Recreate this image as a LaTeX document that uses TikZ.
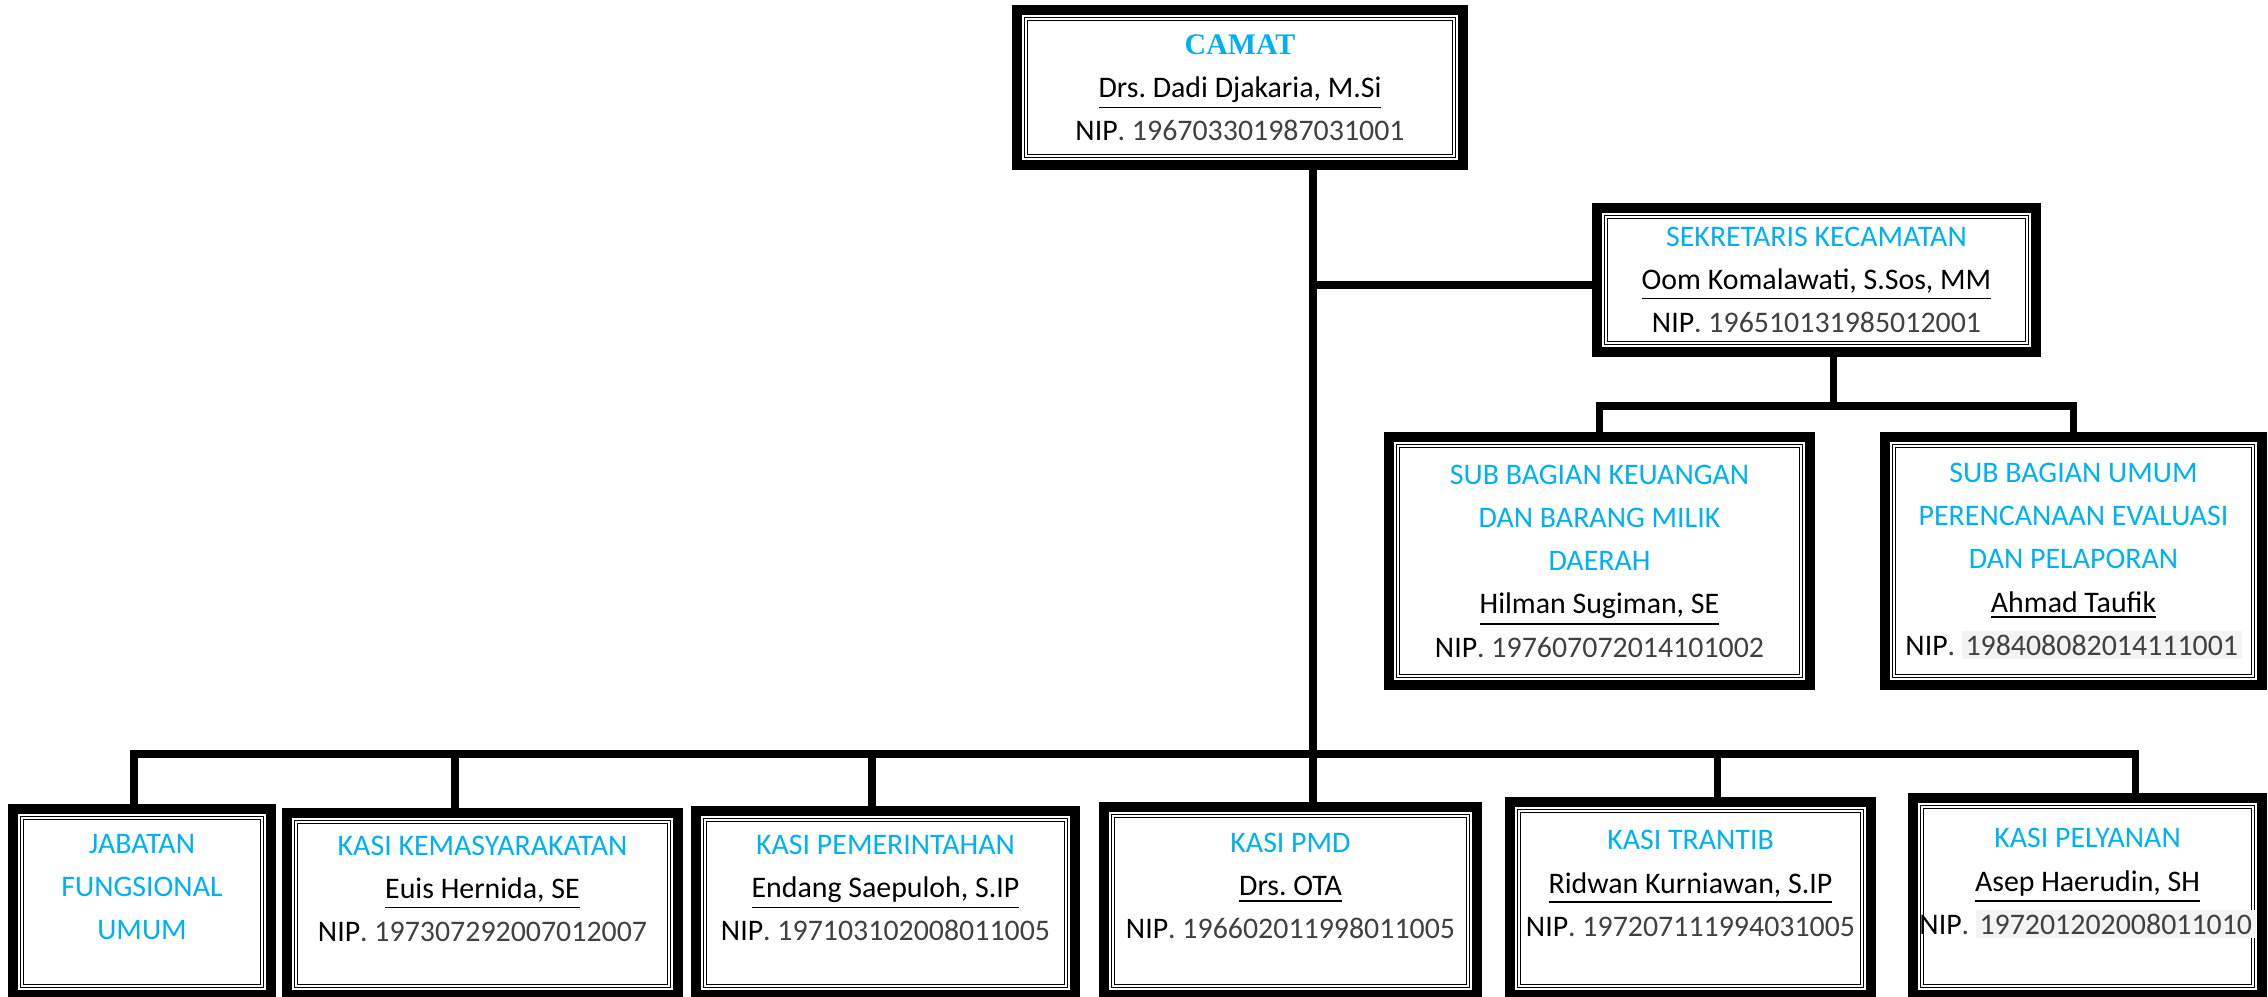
\documentclass[tikz,border=0pt]{standalone}
\usepackage{fontspec}
\setmainfont{Carlito}
\newfontfamily\serifjudul{Liberation Serif}
\usetikzlibrary{positioning}
\definecolor{biru}{HTML}{00B0F0}
\definecolor{abu}{HTML}{404040}
\definecolor{sorot}{HTML}{F3F3F3}
\newcommand{\jab}[1]{\textcolor{biru}{#1}}
\newcommand{\nama}[1]{\underline{#1}}
\newcommand{\nip}[1]{NIP\textcolor{abu}{. #1}}
\newcommand{\nipsorot}[1]{NIP\textcolor{abu}{. }{\setlength{\fboxsep}{1pt}\colorbox{sorot}{\textcolor{abu}{#1}}}}
\frenchspacing

\begin{document}
\begin{tikzpicture}[
  kotak/.style={draw, line width=2.8pt, align=center, inner sep=0pt,
    font=\fontsize{8.5}{12.3}\selectfont,
    append after command={\pgfextra{\draw[line width=0.45pt, double, double distance=0.4pt]
      ([shift={(4pt,-4pt)}]\tikzlastnode.north west) rectangle
      ([shift={(-4pt,4pt)}]\tikzlastnode.south east);}}},
  bawah/.style={kotak, text depth=0.3cm},
  garis/.style={line width=2pt}
]
\useasboundingbox (0,0) rectangle (22.68,-9.97);
% pimpinan
\node[kotak, minimum width=4.46cm, minimum height=1.55cm] (camat) at (12.40,-0.875)
  {{\serifjudul\bfseries\jab{CAMAT}}\\ \nama{Drs. Dadi Djakaria, M.Si}\\ \nip{196703301987031001}};
\node[kotak, minimum width=4.39cm, minimum height=1.44cm] (sekcam) at (18.165,-2.80)
  {\jab{SEKRETARIS KECAMATAN}\\ \nama{Oom Komalawati, S.Sos, MM}\\ \nip{196510131985012001}};
% sub bagian
\node[kotak, minimum width=4.21cm, minimum height=2.48cm] (subkeu) at (15.995,-5.61)
  {\jab{SUB BAGIAN KEUANGAN}\\ \jab{DAN BARANG MILIK}\\ \jab{DAERAH}\\
   \nama{Hilman Sugiman, SE}\\ \nip{197607072014101002}};
\node[kotak, minimum width=3.77cm, minimum height=2.48cm] (subumum) at (20.735,-5.61)
  {\jab{SUB BAGIAN UMUM}\\ \jab{PERENCANAAN EVALUASI}\\ \jab{DAN PELAPORAN}\\
   \nama{Ahmad Taufik}\\ \nipsorot{198408082014111001}};
% seksi
\node[bawah, minimum width=2.58cm, minimum height=1.86cm] (jabfung) at (1.42,-9.02)
  {\jab{JABATAN}\\ \jab{FUNGSIONAL}\\ \jab{UMUM}};
\node[bawah, minimum width=3.91cm, minimum height=1.82cm] (kemas) at (4.825,-9.04)
  {\jab{KASI KEMASYARAKATAN}\\ \nama{Euis Hernida, SE}\\ \nip{197307292007012007}};
\node[bawah, minimum width=3.79cm, minimum height=1.84cm] (pemerintahan) at (8.855,-9.03)
  {\jab{KASI PEMERINTAHAN}\\ \nama{Endang Saepuloh, S.IP}\\ \nip{197103102008011005}};
\node[bawah, minimum width=3.73cm, minimum height=1.88cm] (pmd) at (12.905,-9.01)
  {\jab{KASI PMD}\\ \nama{Drs. OTA}\\ \nip{196602011998011005}};
\node[bawah, minimum width=3.61cm, minimum height=1.93cm] (trantib) at (16.905,-8.985)
  {\jab{KASI TRANTIB}\\ \nama{Ridwan Kurniawan, S.IP}\\ \nip{197207111994031005}};
\node[bawah, minimum width=3.49cm, minimum height=1.97cm] (pelyanan) at (20.875,-8.965)
  {\jab{KASI PELYANAN}\\ \nama{Asep Haerudin, SH}\\ \nipsorot{197201202008011010}};
% titik cabang
\coordinate (cabang) at (13.13,-2.85);
\coordinate (sekbus) at (18.33,-4.06);
\coordinate (b1) at (1.34,-7.54);
\coordinate (b2) at (4.55,-7.54);
\coordinate (b3) at (8.72,-7.54);
\coordinate (pusat) at (13.13,-7.54);
\coordinate (b5) at (17.17,-7.54);
\coordinate (b6) at (21.35,-7.54);
% garis
\draw[garis] (camat.south -| pusat) -- (pusat |- pmd.north);
\path[garis, draw] (cabang) edge (cabang -| sekcam.west);
\path[garis, draw] (sekcam.south -| sekbus) edge (sekbus);
\draw[garis] (subkeu.north) |- (sekbus) -| (subumum.north);
\draw[garis] (jabfung.north -| b1) -- (b1) -- (b6) -- (b6 |- pelyanan.north);
\path[garis, draw] (b2) edge (b2 |- kemas.north);
\path[garis, draw] (b3) edge (b3 |- pemerintahan.north);
\path[garis, draw] (b5) edge (b5 |- trantib.north);
\end{tikzpicture}
\end{document}
